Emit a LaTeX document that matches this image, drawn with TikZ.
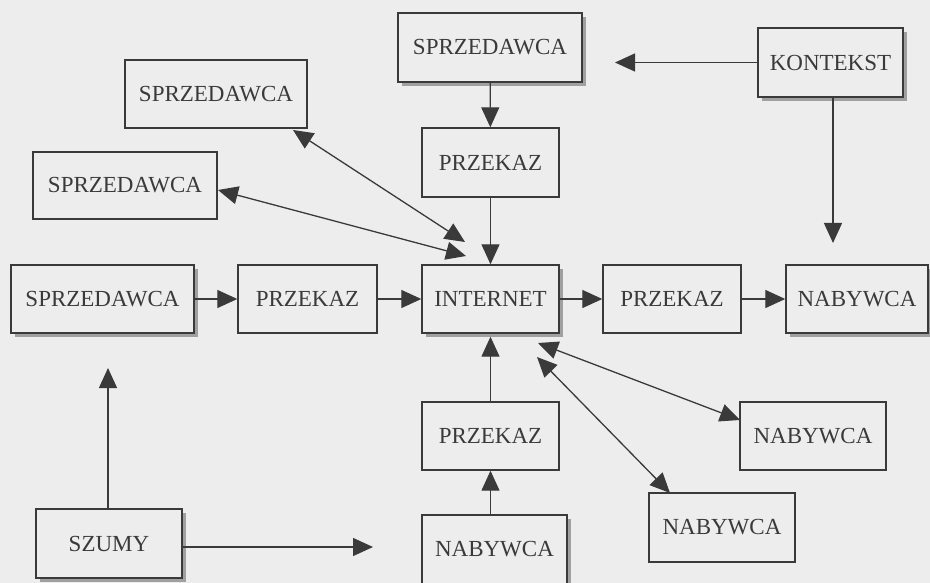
\documentclass[tikz,border=0pt]{standalone}
\usepackage{fontspec}
\setmainfont{Liberation Serif}
\usetikzlibrary{arrows.meta,shadows}
\definecolor{bg}{HTML}{EDEDED}
\definecolor{ink}{HTML}{3A3A3A}
\definecolor{shade}{HTML}{A0A0A0}
\begin{document}
\begin{tikzpicture}[x=1pt,y=-1pt,
  bx/.style={draw=ink, line width=1.4pt, fill=bg, text=ink,
    font=\fontsize{23}{26}\selectfont, inner sep=0pt, minimum height=68pt},
  shd/.style={drop shadow={shadow xshift=4pt, shadow yshift=-4pt, fill=shade, opacity=1}},
  arr/.style={draw=ink, line width=1.3pt, -{Triangle[length=20pt,width=18pt]}},
  darr/.style={draw=ink, line width=1.3pt, {Triangle[length=20pt,width=18pt]}-{Triangle[length=20pt,width=18pt]}}]
\path[use as bounding box, fill=bg] (0,0) rectangle (930,583);
\clip (0,0) rectangle (930,583);
% boxes
\node[bx,shd,minimum width=184pt,minimum height=69pt] (spTop) at (490,47.5) {SPRZEDAWCA};
\node[bx,shd,minimum width=145pt,minimum height=69pt] (kont) at (830.5,62.5) {KONTEKST};
\node[bx,minimum width=182pt] (spA) at (216,94) {SPRZEDAWCA};
\node[bx,minimum width=137pt,minimum height=69pt] (przTop) at (490.5,162.5) {PRZEKAZ};
\node[bx,minimum width=184pt,minimum height=67pt] (spB) at (125,185.5) {SPRZEDAWCA};
\node[bx,shd,minimum width=183pt] (spRow) at (102.5,299) {SPRZEDAWCA};
\node[bx,minimum width=139pt] (przRowA) at (307.5,299) {PRZEKAZ};
\node[bx,shd,minimum width=137pt] (inet) at (490.5,299) {INTERNET};
\node[bx,minimum width=138pt] (przRowB) at (672,299) {PRZEKAZ};
\node[bx,shd,minimum width=142pt] (nabRow) at (857,299) {NABYWCA};
\node[bx,minimum width=137pt] (przBot) at (490.5,436) {PRZEKAZ};
\node[bx,minimum width=146pt] (nabR) at (813,436) {NABYWCA};
\node[bx,minimum width=146pt,minimum height=69pt] (nabL) at (722,527.5) {NABYWCA};
\node[bx,shd,minimum width=146pt,minimum height=69pt] (szumy) at (109,543.5) {SZUMY};
\node[bx,shd,minimum width=145pt,minimum height=69pt] (nabBot) at (494.5,549.5) {NABYWCA};
% free ends
\coordinate (kTip) at (615,62.5);
\coordinate (kDown) at (833,243);
\coordinate (sTip) at (108,368);
\coordinate (nTip) at (373,547);
\coordinate (a1) at (293,130);
\coordinate (a2) at (465,242);
\coordinate (b1) at (218,190);
\coordinate (b2) at (466,256);
\coordinate (c1) at (538,343);
\coordinate (c2) at (740,420);
\coordinate (d1) at (537,357);
\coordinate (d2) at (670,493);
% connectors
\draw[arr] (spTop) -- (przTop);
\draw[arr] (przTop) -- (inet);
\draw[arr] (kont) -- (kTip);
\draw[arr] (kont.south -| kDown) -- (kDown);
\draw[arr] (spRow) -- (przRowA);
\draw[arr] (przRowA) -- (inet);
\draw[arr] (inet) -- (przRowB);
\draw[arr] (przRowB) -- (nabRow);
\draw[arr, shorten >=3pt] (przBot) -- (inet);
\draw[arr] (nabBot.north -| przBot) -- (przBot);
\draw[arr] (szumy.north -| sTip) -- (sTip);
\draw[arr] (szumy.east |- nTip) -- (nTip);
\draw[darr] (a1) -- (a2);
\draw[darr] (b1) -- (b2);
\draw[darr] (c1) -- (c2);
\draw[darr] (d1) -- (d2);
\end{tikzpicture}
\end{document}
